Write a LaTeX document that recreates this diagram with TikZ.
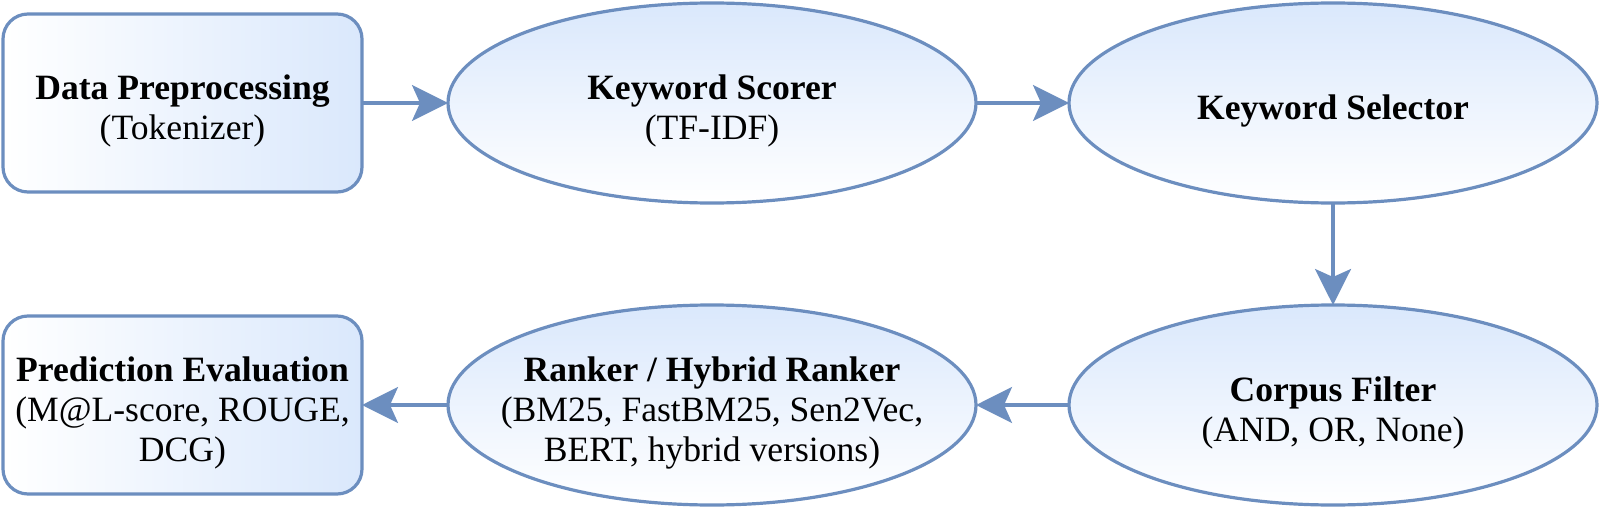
\documentclass[tikz,border=0pt]{standalone}
\usepackage{fontspec}
\setmainfont{Liberation Serif}
\usetikzlibrary{shapes.geometric,arrows.meta}
\definecolor{bstroke}{HTML}{6C8EBF}
\definecolor{bfill}{HTML}{DAE8FC}
\begin{document}
\begin{tikzpicture}[x=0.5pt,y=-0.5pt,
  box/.style={draw=bstroke, line width=1.6pt, rounded corners=12.5pt,
    minimum width=179.5pt, minimum height=89pt, inner sep=0pt, outer sep=0pt,
    left color=white, right color=bfill},
  ell/.style={ellipse, draw=bstroke, line width=1.6pt,
    minimum width=264pt, minimum height=100pt, inner sep=0pt, outer sep=0pt,
    top color=bfill, bottom color=white},
  lbl/.style={align=center, font=\fontsize{17.8}{20}\selectfont, inner sep=0pt},
  flow/.style={draw=bstroke, line width=1.6pt,
    -{Stealth[length=18pt,width=18pt,inset=4pt]}}]
\useasboundingbox (0,0) rectangle (1600,508);

\node[box] (r1) at (182.5,103) {};
\node[ell] (e1) at (712,103) {};
\node[ell] (e2) at (1333,103) {};
\node[ell] (e4) at (1333,405) {};
\node[ell] (e3) at (712,405) {};
\node[box] (r2) at (182.5,405) {};

\node[lbl] (t1) at (182.5,111) {\textbf{Data Preprocessing}\\(Tokenizer)};
\node[lbl] (t2) at (712,111) {\textbf{Keyword Scorer}\\(TF-IDF)};
\node[lbl] (t3) at (1333,111) {\textbf{Keyword Selector}};
\node[lbl] (t4) at (1333,413) {\textbf{Corpus Filter}\\(AND, OR, None)};
\node[lbl] (t5) at (712,413) {\textbf{Ranker / Hybrid Ranker}\\(BM25, FastBM25, Sen2Vec,\\BERT, hybrid versions)};
\node[lbl] (t6) at (182.5,413) {\textbf{Prediction Evaluation}\\(M@L-score, ROUGE,\\DCG)};

\draw[flow] (r1) -- (e1);
\draw[flow] (e1) -- (e2);
\draw[flow] (e2) -- (e4);
\draw[flow] (e4) -- (e3);
\draw[flow] (e3) -- (r2);
\end{tikzpicture}
\end{document}
